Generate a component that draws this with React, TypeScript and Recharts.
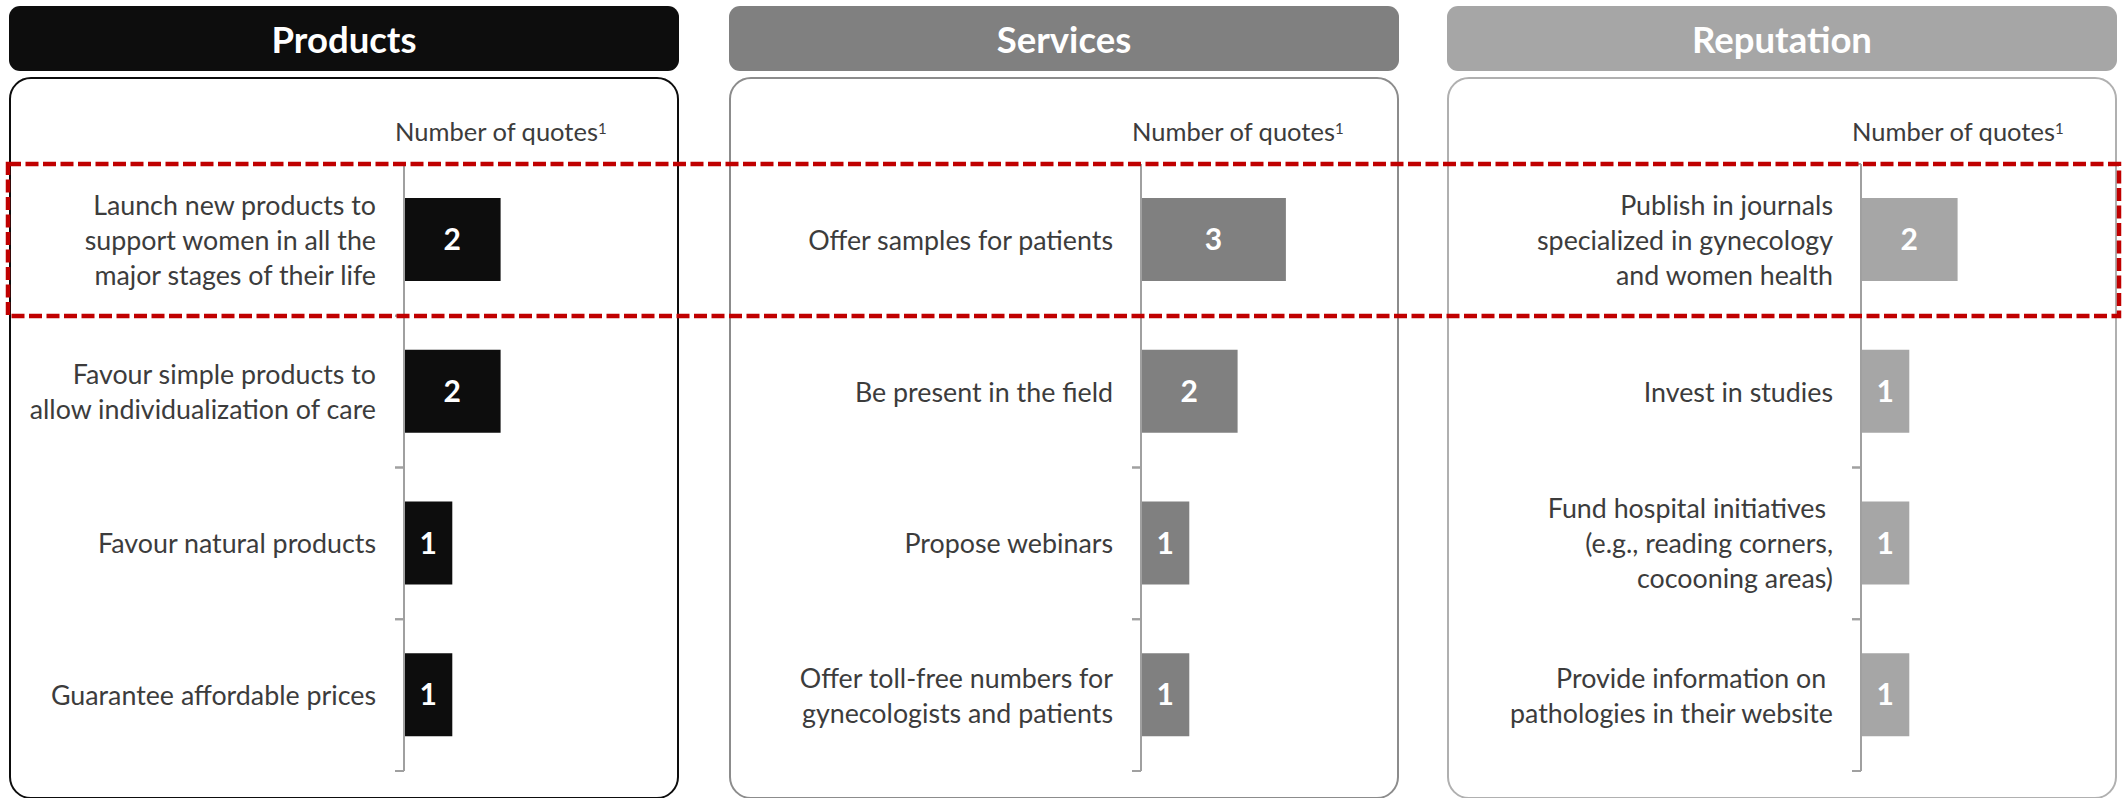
import React from 'react';
import { BarChart, Bar, XAxis, YAxis, LabelList } from 'recharts';

const panelTitles = ['Products', 'Services', 'Reputation'];
const quotesTitle = 'Number of quotes';

const productLabels = [
  'Launch new products to\nsupport women in all the\nmajor stages of their life',
  'Favour simple products to\nallow individualization of care',
  'Favour natural products',
  'Guarantee affordable prices',
];
const productValues = [2, 2, 1, 1];

const serviceLabels = [
  'Offer samples for patients',
  'Be present in the field',
  'Propose webinars',
  'Offer toll-free numbers for\ngynecologists and patients',
];
const serviceValues = [3, 2, 1, 1];

const reputationLabels = [
  'Publish in journals\nspecialized in gynecology\nand women health',
  'Invest in studies',
  'Fund hospital initiatives \n(e.g., reading corners,\ncocooning areas)',
  'Provide information on \npathologies in their website',
];
const reputationValues = [2, 1, 1, 1];

const FONT = 'Lato, "Open Sans", sans-serif';
const TEXT = '#3c3c3c';
const PANEL_W = 670;
const PLOT_TOP = 164;
const PLOT_H = 607;
const PX_PER_QUOTE = 48.3;
const MAX_QUOTES = 5;

const panels = [
  { left: 9, axis: 395, color: '#0d0d0d', border: '#0d0d0d', labels: productLabels, values: productValues },
  { left: 729, axis: 412, color: '#808080', border: '#8c8c8c', labels: serviceLabels, values: serviceValues },
  { left: 1447, axis: 414, color: '#a6a6a6', border: '#b0b0b0', labels: reputationLabels, values: reputationValues },
];

const makeTick = (axisX: number, band: number) => (props: any) => {
  const { y, payload } = props;
  const lines = String(payload.value).split('\n');
  const lh = 35;
  const first = y - ((lines.length - 1) * lh) / 2;
  return (
    <g>
      <line x1={axisX - 9} x2={axisX} y1={y - band / 2} y2={y - band / 2} stroke="#a0a0a0" strokeWidth={2} />
      <line x1={axisX - 9} x2={axisX} y1={y + band / 2} y2={y + band / 2} stroke="#a0a0a0" strokeWidth={2} />
      <text
        x={axisX - 28}
        y={first}
        textAnchor="end"
        dominantBaseline="central"
        fill={TEXT}
        fontSize={26.8}
        fontFamily={FONT}
        style={{ whiteSpace: 'pre' }}
      >
        {lines.map((l, i) => (
          <tspan key={i} x={axisX - 28} dy={i === 0 ? 0 : lh}>
            {l}
          </tspan>
        ))}
      </text>
    </g>
  );
};

const Panel = ({ idx }: { idx: number }) => {
  const p = panels[idx];
  const data = p.labels.map((label, i) => ({ label, value: p.values[i] }));
  const band = PLOT_H / data.length;
  const rightMargin = PANEL_W - p.axis - PX_PER_QUOTE * MAX_QUOTES;
  return (
    <>
      <div
        style={{
          position: 'absolute',
          left: p.left,
          top: 6,
          width: PANEL_W,
          height: 65,
          background: p.color,
          borderRadius: 11,
          color: '#fff',
          fontFamily: FONT,
          fontWeight: 700,
          fontSize: 36.5,
          display: 'flex',
          alignItems: 'center',
          justifyContent: 'center',
        }}
      >
        {panelTitles[idx]}
      </div>
      <div
        style={{
          position: 'absolute',
          left: p.left,
          top: 77,
          width: PANEL_W,
          height: 722,
          boxSizing: 'border-box',
          border: `2px solid ${p.border}`,
          borderRadius: 22,
        }}
      />
      <div
        style={{
          position: 'absolute',
          left: p.left + p.axis - 9,
          top: 116,
          fontFamily: FONT,
          fontSize: 25.5,
          color: TEXT,
          whiteSpace: 'nowrap',
          lineHeight: '30px',
        }}
      >
        {quotesTitle}
        <sup style={{ fontSize: 15, verticalAlign: 'top', position: 'relative', top: -3 }}>1</sup>
      </div>
      <div style={{ position: 'absolute', left: p.left, top: PLOT_TOP - 10 }}>
        <BarChart
          width={PANEL_W}
          height={PLOT_H + 20}
          layout="vertical"
          data={data}
          margin={{ top: 10, bottom: 10, left: 0, right: rightMargin }}
        >
          <XAxis type="number" domain={[0, MAX_QUOTES]} hide />
          <YAxis
            type="category"
            dataKey="label"
            width={p.axis}
            interval={0}
            tickLine={false}
            axisLine={{ stroke: '#a0a0a0', strokeWidth: 2 }}
            tick={makeTick(p.axis, band)}
          />
          <Bar dataKey="value" fill={p.color} barSize={83} isAnimationActive={false}>
            <LabelList dataKey="value" position="center" fill="#fff" fontSize={30} fontWeight={700} fontFamily={FONT} />
          </Bar>
        </BarChart>
      </div>
    </>
  );
};

export default function App() {
  return (
    <div style={{ position: 'absolute', left: 0, top: 0, width: 2123, height: 798, background: '#fff', overflow: 'hidden' }}>
      {panels.map((_, i) => (
        <Panel key={i} idx={i} />
      ))}
      <svg width={2123} height={798} style={{ position: 'absolute', left: 0, top: 0, pointerEvents: 'none' }}>
        <rect x={8} y={164} width={2111} height={152} fill="none" stroke="#c00000" strokeWidth={4.5} strokeDasharray="13 4.5" />
      </svg>
    </div>
  );
}
